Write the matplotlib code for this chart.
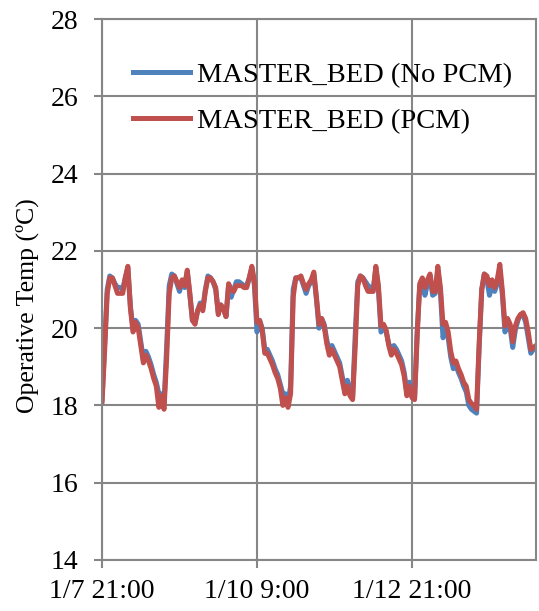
import numpy as np
import matplotlib
matplotlib.use("Agg")
import matplotlib.pyplot as plt

plt.rcParams['font.family'] = ['Liberation Serif', 'DejaVu Serif']

# Hourly operative temperature, master bedroom, 1/7 21:00 onward (169 hours)
no_pcm = [
    18.15, 19.6, 21.0, 21.35, 21.3, 21.15, 21.05, 21.05, 21.0, 21.3,
    21.55, 20.55, 20.0, 20.2, 20.1, 19.65, 19.2, 19.4, 19.25, 19.05,
    18.8, 18.6, 18.3, 18.3, 18.05, 19.5, 21.1, 21.4, 21.35, 21.15,
    20.95, 21.2, 21.05, 21.45, 20.85, 20.2, 20.15, 20.45, 20.65, 20.5,
    21.0, 21.35, 21.3, 21.2, 21.0, 20.4, 20.6, 20.5, 20.3, 21.1,
    20.8, 21.0, 21.2, 21.2, 21.15, 21.1, 21.1, 21.3, 21.55, 21.1,
    19.9, 20.2, 20.0, 19.45, 19.45, 19.3, 19.15, 18.95, 18.8, 18.55,
    18.3, 18.3, 18.1, 18.5, 21.0, 21.3, 21.3, 21.3, 21.1, 20.9,
    21.1, 21.2, 21.4, 20.75, 20.0, 20.25, 20.1, 19.7, 19.4, 19.55,
    19.4, 19.25, 19.1, 18.75, 18.45, 18.65, 18.35, 18.2, 19.8, 21.2,
    21.35, 21.3, 21.2, 21.1, 21.05, 21.0, 21.55, 21.0, 19.9, 20.05,
    19.9, 19.6, 19.4, 19.55, 19.45, 19.3, 19.15, 18.85, 18.35, 18.6,
    18.3, 18.2, 19.9, 21.1, 21.25, 20.85, 21.15, 21.3, 20.85, 20.9,
    21.5, 20.95, 19.75, 19.95, 19.75, 19.25, 18.95, 19.05, 18.85, 18.7,
    18.5, 18.35, 18.0, 17.9, 17.85, 17.8, 19.5, 21.0, 21.4, 21.25,
    20.85, 21.1, 20.95, 21.15, 21.5, 20.85, 19.9, 20.15, 20.0, 19.5,
    19.95, 20.2, 20.35, 20.35, 20.15, 19.75, 19.35, 19.45, 19.5,
]
pcm = [
    18.1, 19.4, 20.9, 21.3, 21.3, 21.1, 20.9, 20.9, 20.9, 21.3,
    21.6, 20.5, 19.9, 20.15, 20.0, 19.55, 19.1, 19.3, 19.15, 18.95,
    18.7, 18.5, 17.95, 18.25, 17.9, 19.2, 20.9, 21.3, 21.35, 21.2,
    21.05, 21.25, 21.1, 21.5, 20.9, 20.2, 20.1, 20.45, 20.6, 20.45,
    20.95, 21.3, 21.3, 21.2, 21.05, 20.35, 20.6, 20.5, 20.3, 21.15,
    21.0, 20.95, 21.1, 21.1, 21.1, 21.05, 21.05, 21.3, 21.6, 21.2,
    20.15, 20.2, 19.95, 19.35, 19.35, 19.2, 19.05, 18.85, 18.7, 18.45,
    18.0, 18.2, 17.95, 18.3, 20.8, 21.3, 21.3, 21.35, 21.15, 21.0,
    21.15, 21.25, 21.45, 20.8, 20.1, 20.25, 20.05, 19.6, 19.3, 19.45,
    19.3, 19.15, 19.0, 18.65, 18.3, 18.5, 18.25, 18.15, 19.5, 21.1,
    21.35, 21.3, 21.1, 20.95, 20.95, 20.95, 21.6, 21.1, 20.05, 20.1,
    19.95, 19.55, 19.3, 19.45, 19.35, 19.2, 19.05, 18.75, 18.25, 18.5,
    18.2, 18.15, 19.8, 21.15, 21.3, 21.05, 21.25, 21.4, 20.95, 20.95,
    21.6, 21.05, 20.1, 20.15, 19.9, 19.4, 19.1, 19.15, 18.95, 18.8,
    18.6, 18.5, 18.15, 18.05, 18.0, 17.9, 19.6, 21.0, 21.4, 21.35,
    21.1, 21.25, 21.05, 21.25, 21.65, 20.95, 20.05, 20.25, 20.1, 19.65,
    20.05, 20.25, 20.35, 20.4, 20.25, 19.9, 19.45, 19.5, 19.55,
]
hours = np.arange(len(pcm))

tick_hours = [0, 60, 120]
tick_labels = ["1/7 21:00", "1/10 9:00", "1/12 21:00"]
labels = ["MASTER_BED (No PCM)", "MASTER_BED (PCM)"]

grey = "#868686"

fig = plt.figure(figsize=(5.39, 6.11), dpi=100)
ax = fig.add_axes([0.1893, 0.0835, 0.8051, 0.8854])

ax.plot(hours, no_pcm, color="#4F81BD", lw=3.6, label=labels[0],
        solid_joinstyle="round")
ax.plot(hours, pcm, color="#C0504D", lw=3.6, label=labels[1],
        solid_joinstyle="round")

ax.set_xlim(0, 168)
ax.set_ylim(14, 28)
ax.set_yticks(np.arange(14, 29, 2))
ax.set_xticks(tick_hours)
ax.set_xticklabels(tick_labels)

ax.grid(True, color=grey, lw=1.5)
ax.set_axisbelow(True)
for s in ax.spines.values():
    s.set_color(grey)
    s.set_linewidth(1.5)
ax.tick_params(axis="both", colors=grey, labelcolor="black", labelsize=20,
               length=6, width=1.5)
ax.tick_params(axis="y", pad=11)
ax.tick_params(axis="x", pad=8)

ax.set_ylabel("Operative Temp (ºC)", fontsize=18.5)
ax.yaxis.set_label_coords(-0.145, 0.47)

ax.legend(loc="upper left", bbox_to_anchor=(0.0715, 0.92), frameon=False,
          fontsize=20.5, handlelength=2.0, handletextpad=0.25,
          labelspacing=0.71, borderpad=0, borderaxespad=0)

fig.savefig("out.png", dpi=100)
